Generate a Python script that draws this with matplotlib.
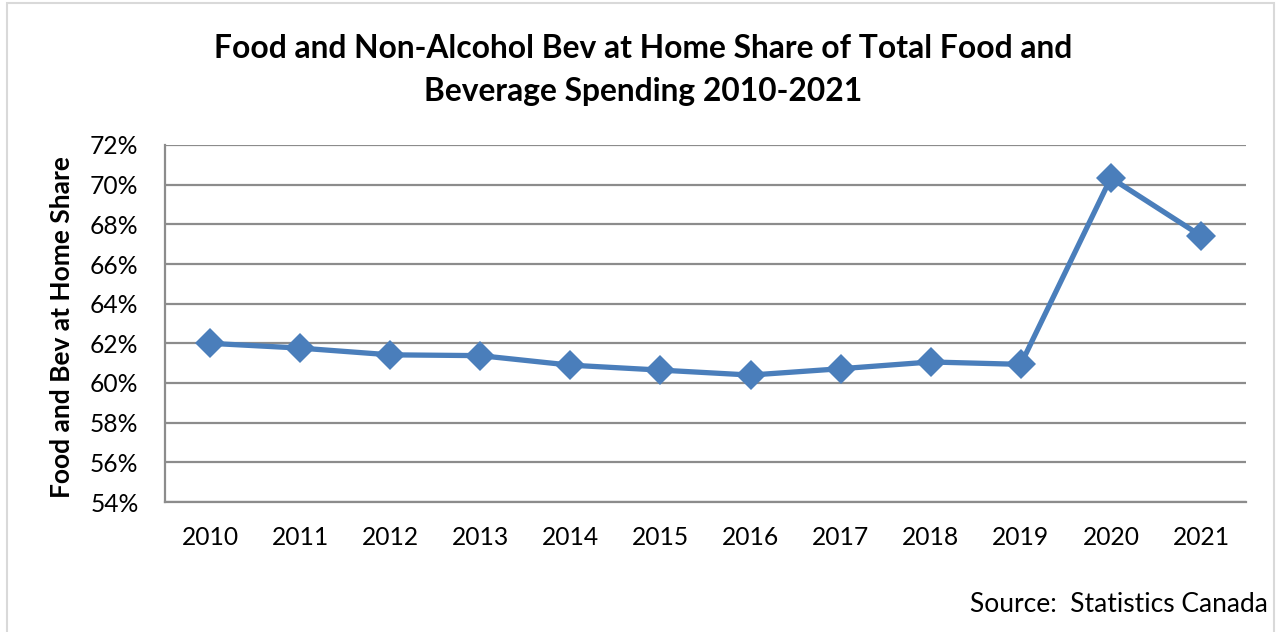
import matplotlib
matplotlib.use("Agg")
import matplotlib.pyplot as plt
from matplotlib.patches import Rectangle
from matplotlib.ticker import PercentFormatter

plt.rcParams['font.family'] = ['Lato', 'DejaVu Sans']

years = ['2010', '2011', '2012', '2013', '2014', '2015',
         '2016', '2017', '2018', '2019', '2020', '2021']
share = [62.0, 61.76, 61.42, 61.38, 60.9, 60.65,
         60.4, 60.72, 61.06, 60.94, 70.34, 67.42]

W, H = 1280, 632
fig = plt.figure(figsize=(W / 100, H / 100), dpi=100)
ax = fig.add_axes([165 / W, 1 - 502 / H, (1246 - 165) / W, (502 - 145) / H])

x = [i + 0.5 for i in range(len(years))]
ax.plot(x, share, color='#4A7EBB', lw=3.8, marker='D', markersize=15.5,
        markeredgewidth=0, solid_joinstyle='round')

ax.set_xlim(0, len(years))
ax.set_ylim(54, 72)
ax.set_yticks(range(54, 73, 2))
ax.yaxis.set_major_formatter(PercentFormatter(decimals=0))
ax.set_xticks(x)
ax.set_xticklabels(years)
ax.grid(axis='y', color='#8C8C8C', lw=1.6)
ax.set_axisbelow(True)
for side in ['top', 'right']:
    ax.spines[side].set_visible(False)
for side in ['left', 'bottom']:
    ax.spines[side].set_color('#8C8C8C')
    ax.spines[side].set_linewidth(1.6)
ax.tick_params(axis='both', length=0, labelsize=17.7, colors='black')
ax.tick_params(axis='y', pad=19)
ax.tick_params(axis='x', pad=17)

fig.text(62 / W, 1 - 327 / H, 'Food and Bev at Home Share', rotation=90,
         ha='center', va='center', fontsize=19, fontweight='bold')

fig.text(643 / W, 1 - 70 / H,
         'Food and Non-Alcohol Bev at Home Share of Total Food and\nBeverage Spending 2010-2021',
         ha='center', va='center', fontsize=22.9, fontweight='bold', linespacing=1.62)
fig.text(1268 / W, 1 - 605 / H, 'Source:  Statistics Canada', ha='right', va='center', fontsize=19)

fig.patches.append(Rectangle((7 / W, -0.01), (1274 - 7) / W, 1 - 3 / H + 0.01,
                             transform=fig.transFigure, fill=False,
                             edgecolor='#D9D9D9', lw=1.5))

fig.savefig('out.png', dpi=100)
